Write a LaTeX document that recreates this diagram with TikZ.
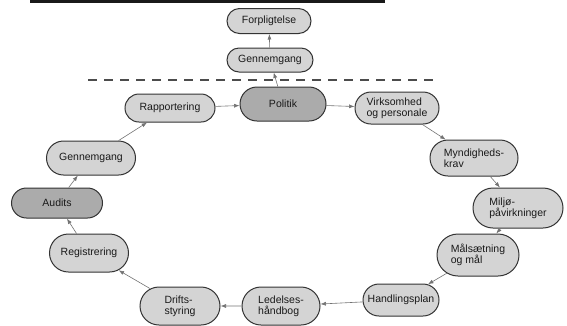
\documentclass[tikz,border=0pt]{standalone}
\usepackage{fontspec}
\setmainfont{Liberation Sans}
\usetikzlibrary{arrows.meta,shapes.misc}
\begin{document}
\begin{tikzpicture}[x=1pt,y=-1pt,
  box/.style={rounded rectangle, rounded rectangle arc length=180, draw=black!80, line width=1pt, fill=black!17,
     minimum width=#1, inner sep=2pt, align=left, font=\fontsize{10.5}{11}\selectfont, text=black!90},
  box/.default=88pt,
  dark/.style={fill=black!33},
  link/.style={draw=black!55, line width=0.6pt, -{Latex[length=5.5pt,width=4pt]}}]
\useasboundingbox (0,0) rectangle (567,325);
\fill[black!90] (30,0) rectangle (385,3);
\draw[black!70, line width=1.3pt, dash pattern=on 9pt off 7pt] (88,80) -- (440,80);

\node[box=88pt, minimum height=25pt] (forp) at (269,21) {Forpligtelse};
\node[box=90pt, minimum height=24pt] (genT) at (270,60) {Gennemgang};
\node[box=90pt, minimum height=34pt, dark] (pol) at (283,104) {Politik};
\node[box=94pt, minimum height=28pt] (rap) at (170,108) {Rapportering};
\node[box=88pt, minimum height=32pt] (virk) at (397,108) {Virksomhed\\og personale};
\node[box=92pt, minimum height=36pt] (myn) at (474,158) {Myndigheds-\\krav};
\node[box=94pt, minimum height=40pt] (milj) at (518,208) {Miljø-\\påvirkninger};
\node[box=86pt, minimum height=42pt] (maal) at (478,255) {Målsætning\\og mål};
\node[box=80pt, minimum height=32pt] (hand) at (401,300) {Handlingsplan};
\node[box=82pt, minimum height=38pt] (led) at (281,306) {Ledelses-\\håndbog};
\node[box=84pt, minimum height=38pt] (drift) at (180,306) {Drifts-\\styring};
\node[box=83pt, minimum height=38pt] (reg) at (89,253) {Registrering};
\node[box=95pt, minimum height=30pt, dark] (aud) at (57,203) {Audits};
\node[box=93pt, minimum height=34pt] (genL) at (91,158) {Gennemgang};

\draw[link] (pol) -- (genT);
\draw[link] (genT) -- (forp);
\draw[link] (rap) -- (pol);
\draw[link] (pol) -- (virk);
\draw[link] (virk) -- (myn);
\draw[link] (myn) -- (milj);
\draw[link] (milj) -- (maal);
\draw[link] (maal) -- (hand);
\draw[link] (hand) -- (led);
\draw[link] (led) -- (drift);
\draw[link] (drift) -- (reg);
\draw[link] (reg) -- (aud);
\draw[link] (aud) -- (genL);
\draw[link] (genL) -- (rap);
\end{tikzpicture}
\end{document}
